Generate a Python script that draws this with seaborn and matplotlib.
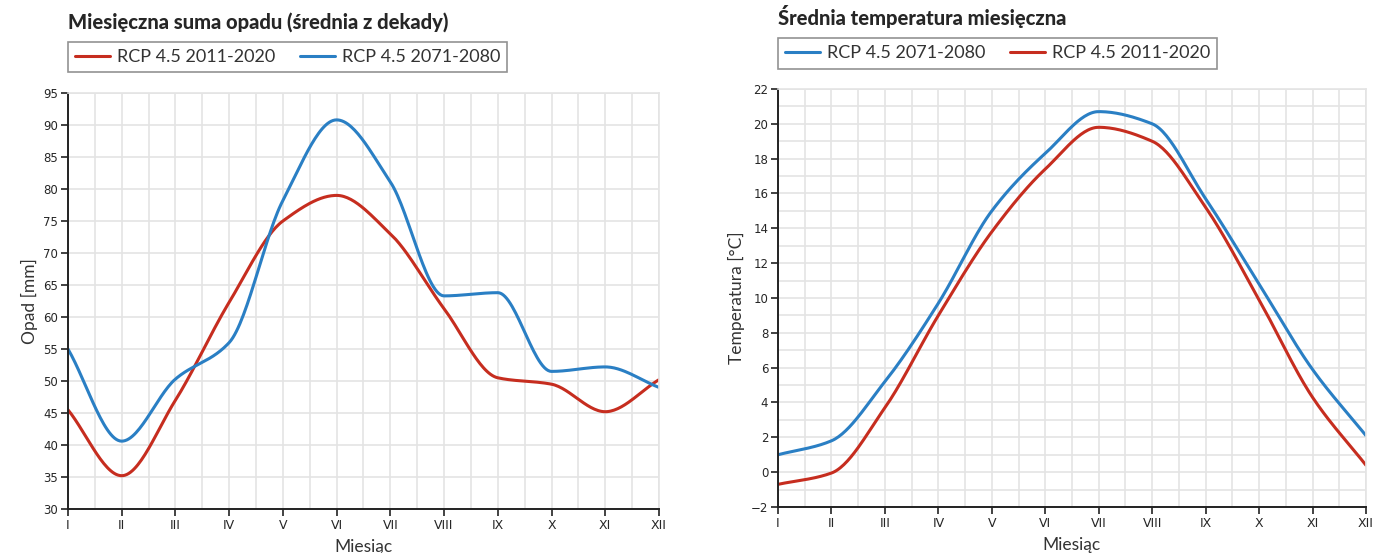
import numpy as np
import pandas as pd
import seaborn as sns
import matplotlib.pyplot as plt
from matplotlib.ticker import MultipleLocator

# dane
months = ["I", "II", "III", "IV", "V", "VI", "VII", "VIII", "IX", "X", "XI", "XII"]
opad_2011_2020 = [45.5, 35.2, 47.0, 62.3, 75.0, 79.0, 73.0, 61.3, 50.5, 49.5, 45.2, 50.2]
opad_2071_2080 = [55.0, 40.6, 50.3, 56.0, 78.2, 90.8, 81.1, 63.3, 63.8, 51.5, 52.2, 49.0]
temp_2011_2020 = [-0.7, -0.05, 3.7, 9.0, 13.8, 17.4, 19.8, 19.0, 15.2, 9.9, 4.3, 0.4]
temp_2071_2080 = [1.0, 1.8, 5.2, 9.7, 15.0, 18.3, 20.7, 20.0, 15.7, 10.8, 5.9, 2.1]

RED = "#c62d1f"
BLUE = "#2a7fc4"
GRID = "#e4e4e4"


def monotone(x, y, n=30):
    # krzywa monotoniczna (jak spline w wykresie), tylko do rysowania
    x = np.asarray(x, float)
    y = np.asarray(y, float)
    h = np.diff(x)
    d = np.diff(y) / h
    m = np.zeros_like(y)
    m[0], m[-1] = d[0], d[-1]
    for i in range(1, len(y) - 1):
        if d[i - 1] * d[i] > 0:
            m[i] = 2 / (1 / d[i - 1] + 1 / d[i])
    xs, ys = [], []
    for i in range(len(h)):
        t = np.linspace(0, 1, n, endpoint=False)
        h00 = 2 * t**3 - 3 * t**2 + 1
        h10 = t**3 - 2 * t**2 + t
        h01 = -2 * t**3 + 3 * t**2
        h11 = t**3 - t**2
        xs.append(x[i] + t * h[i])
        ys.append(h00 * y[i] + h10 * h[i] * m[i] + h01 * y[i + 1] + h11 * h[i] * m[i + 1])
    xs.append([x[-1]])
    ys.append([y[-1]])
    return np.concatenate(xs), np.concatenate(ys)


sns.set_style("white")
plt.rcParams["font.family"] = ["Lato", "DejaVu Sans"]

fig = plt.figure(figsize=(13.76, 5.53), dpi=100)
ax1 = fig.add_axes([0.0494, 0.0796, 0.4295, 0.7522])
ax2 = fig.add_axes([0.5654, 0.0832, 0.4273, 0.7559])

xpos = np.arange(len(months))


def draw(ax, series, ylim, ymajor, yminor, ylabel, title, title_y, legend_xy):
    for label, vals, col in series:
        sx, sy = monotone(xpos, vals)
        df = pd.DataFrame({"x": sx, "y": sy})
        sns.lineplot(data=df, x="x", y="y", ax=ax, color=col, lw=2.2, label=label, sort=False)
    ax.set_xlim(0, len(months) - 1)
    ax.set_ylim(*ylim)
    ax.set_xticks(xpos)
    ax.set_xticklabels(months, fontsize=9, family="Liberation Sans Narrow")
    ax.xaxis.set_minor_locator(MultipleLocator(0.5))
    ax.yaxis.set_major_locator(MultipleLocator(ymajor))
    if yminor:
        ax.yaxis.set_minor_locator(MultipleLocator(yminor))
    for t in ax.get_yticklabels():
        t.set_fontsize(8.5)
        t.set_family("Liberation Sans Narrow")
    ax.grid(True, which="both", color=GRID, lw=1.2)
    ax.set_axisbelow(True)
    ax.tick_params(axis="both", which="major", length=5, width=1.2, color="#222222", pad=2, bottom=True, left=True)
    ax.tick_params(axis="both", which="minor", length=0)
    for s in ["left", "bottom"]:
        ax.spines[s].set_color("#222222")
        ax.spines[s].set_linewidth(1.4)
    for s in ["top", "right"]:
        ax.spines[s].set_color(GRID)
        ax.spines[s].set_linewidth(1.2)
    ax.set_xlabel("Miesiąc", fontsize=12.5, color="#333333", labelpad=5)
    ax.set_ylabel(ylabel, fontsize=12.5, color="#333333", labelpad=4)
    ax.legend_.remove()
    handles, labels = ax.get_legend_handles_labels()
    leg = fig.legend(handles, labels, loc="upper left", bbox_to_anchor=legend_xy, ncol=2,
                     fontsize=13, frameon=True, fancybox=False, handlelength=1.9,
                     handletextpad=0.4, columnspacing=1.4, borderpad=0.4, borderaxespad=0)
    leg.get_frame().set_edgecolor("#777777")
    leg.get_frame().set_linewidth(1.2)
    for t in leg.get_texts():
        t.set_color("#333333")
    fig.text(legend_xy[0], title_y, title, fontsize=14.5, fontweight="black", va="baseline", ha="left")


draw(ax1,
     [("RCP 4.5 2011-2020", opad_2011_2020, RED), ("RCP 4.5 2071-2080", opad_2071_2080, BLUE)],
     (30, 95), 5, None, "Opad [mm]", "Miesięczna suma opadu (średnia z dekady)", 0.948, (0.0494, 0.924))
draw(ax2,
     [("RCP 4.5 2071-2080", temp_2071_2080, BLUE), ("RCP 4.5 2011-2020", temp_2011_2020, RED)],
     (-2, 22), 2, 1, "Temperatura [°C]", "Średnia temperatura miesięczna", 0.955, (0.5654, 0.931))

fig.savefig("out.png", dpi=100)
